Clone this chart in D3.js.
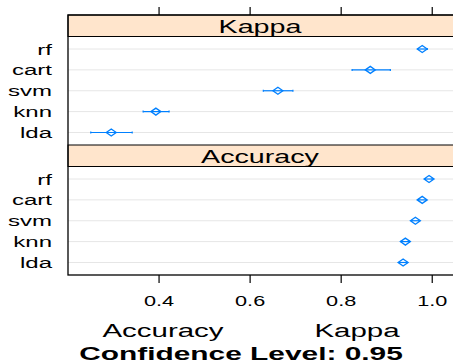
<!DOCTYPE html>
<html>
<head>
<meta charset="utf-8">
<script src="https://cdn.jsdelivr.net/npm/d3@7"></script>
<style>
  body { margin: 0; background: #fff; }
  svg { display: block; font-family: "Liberation Sans", Arial, sans-serif; }
</style>
</head>
<body>
<div id="chart"></div>
<script>
(function () {

	// data
	var models = ['rf', 'cart', 'svm', 'knn', 'lda'];
	var panels = ['Kappa', 'Accuracy'];
	var kappaMean  = [0.978, 0.864, 0.661, 0.393, 0.295];
	var kappaLower = [0.969, 0.824, 0.629, 0.365, 0.250];
	var kappaUpper = [0.989, 0.908, 0.694, 0.422, 0.341];
	var accMean  = [0.993, 0.978, 0.963, 0.941, 0.936];
	var accLower = [0.985, 0.970, 0.955, 0.932, 0.928];
	var accUpper = [1.000, 0.987, 0.971, 0.950, 0.944];
	var ticks = [0.4, 0.6, 0.8, 1.0];

	var W = 453, H = 363;
	var stretch = 1.55;   // the reference text is drawn wide
	var blue = '#0080ff';

	var svg = d3.select('#chart').append('svg')
		.attr('width', W).attr('height', H);

	var x = d3.scaleLinear().domain([0.2, 1.05]).range([68, 455]);

	var top = 15, stripH = 21.5, bodyH = 108.5;
	var panelTop = function (i) { return top + i * (stripH + bodyH); };
	var bottom = panelTop(panels.length);

	var series = {
		Kappa: { mean: kappaMean, lo: kappaLower, hi: kappaUpper },
		Accuracy: { mean: accMean, lo: accLower, hi: accUpper }
	};

	var wideText = function (sel, tx, ty, txt, size, anchor, weight, sx) {
		sel.append('text')
			.attr('transform', 'translate(' + tx + ',' + ty + ') scale(' + (sx || stretch) + ',1)')
			.attr('text-anchor', anchor)
			.attr('font-size', size)
			.attr('font-weight', weight || 'normal')
			.attr('fill', '#000')
			.text(txt);
	};

	panels.forEach(function (name, i) {
		var t = panelTop(i);
		var g = svg.append('g');

		var y = d3.scalePoint().domain(models)
			.range([t + stripH, t + stripH + bodyH]).padding(0.6);

		// strip
		g.append('rect')
			.attr('x', x.range()[0]).attr('y', t)
			.attr('width', x.range()[1] - x.range()[0]).attr('height', stripH)
			.attr('fill', '#ffe5cc').attr('stroke', '#000').attr('stroke-width', 1);
		wideText(g, (x.range()[0] + 432) / 2 + 10, t + stripH - 4, name, 18.5, 'middle');

		// grid lines
		g.selectAll('line.grid').data(models).enter()
			.append('line')
			.attr('x1', x.range()[0]).attr('x2', x.range()[1])
			.attr('y1', function (d) { return y(d); })
			.attr('y2', function (d) { return y(d); })
			.attr('stroke', '#e6e6e6').attr('stroke-width', 1);

		// model labels
		models.forEach(function (m) {
			wideText(g, 52, y(m) + 5.5, m, 15.5, 'end');
		});

		var s = series[name];
		var rows = models.map(function (m, k) {
			return { model: m, mean: s.mean[k], lo: s.lo[k], hi: s.hi[k] };
		});

		// confidence intervals
		var ci = g.selectAll('g.ci').data(rows).enter().append('g');
		ci.append('line')
			.attr('x1', function (d) { return x(d.lo); })
			.attr('x2', function (d) { return x(d.hi); })
			.attr('y1', function (d) { return y(d.model); })
			.attr('y2', function (d) { return y(d.model); })
			.attr('stroke', blue).attr('stroke-width', 1.2);
		['lo', 'hi'].forEach(function (k) {
			ci.append('line')
				.attr('x1', function (d) { return x(d[k]); })
				.attr('x2', function (d) { return x(d[k]); })
				.attr('y1', function (d) { return y(d.model) - 1; })
				.attr('y2', function (d) { return y(d.model) + 1; })
				.attr('stroke', blue).attr('stroke-width', 1.2);
		});
		// diamonds
		ci.append('path')
			.attr('d', function (d) {
				var cx = x(d.mean), cy = y(d.model);
				return 'M' + (cx - 5) + ',' + cy + 'L' + cx + ',' + (cy - 3.5) +
					'L' + (cx + 5) + ',' + cy + 'L' + cx + ',' + (cy + 3.5) + 'Z';
			})
			.attr('fill', 'none').attr('stroke', blue).attr('stroke-width', 1.3);
	});

	// outer panel box
	svg.append('rect')
		.attr('x', x.range()[0]).attr('y', top)
		.attr('width', x.range()[1] - x.range()[0]).attr('height', bottom - top)
		.attr('fill', 'none').attr('stroke', '#000').attr('stroke-width', 1.3);

	// ticks top and bottom
	svg.selectAll('line.ttop').data(ticks).enter().append('line')
		.attr('x1', x).attr('x2', x)
		.attr('y1', top - 8).attr('y2', top)
		.attr('stroke', '#000').attr('stroke-width', 1.2);
	svg.selectAll('line.tbot').data(ticks).enter().append('line')
		.attr('x1', x).attr('x2', x)
		.attr('y1', bottom).attr('y2', bottom + 8)
		.attr('stroke', '#000').attr('stroke-width', 1.2);
	ticks.forEach(function (v) {
		wideText(svg, x(v), 306, d3.format('.1f')(v), 14, 'middle');
	});

	// axis titles
	wideText(svg, 163, 337, 'Accuracy', 19, 'middle');
	wideText(svg, 357, 337, 'Kappa', 19, 'middle');
	wideText(svg, 241, 359.5, 'Confidence Level: 0.95', 18, 'middle', 'bold', 1.66);

})();
</script>
</body>
</html>
